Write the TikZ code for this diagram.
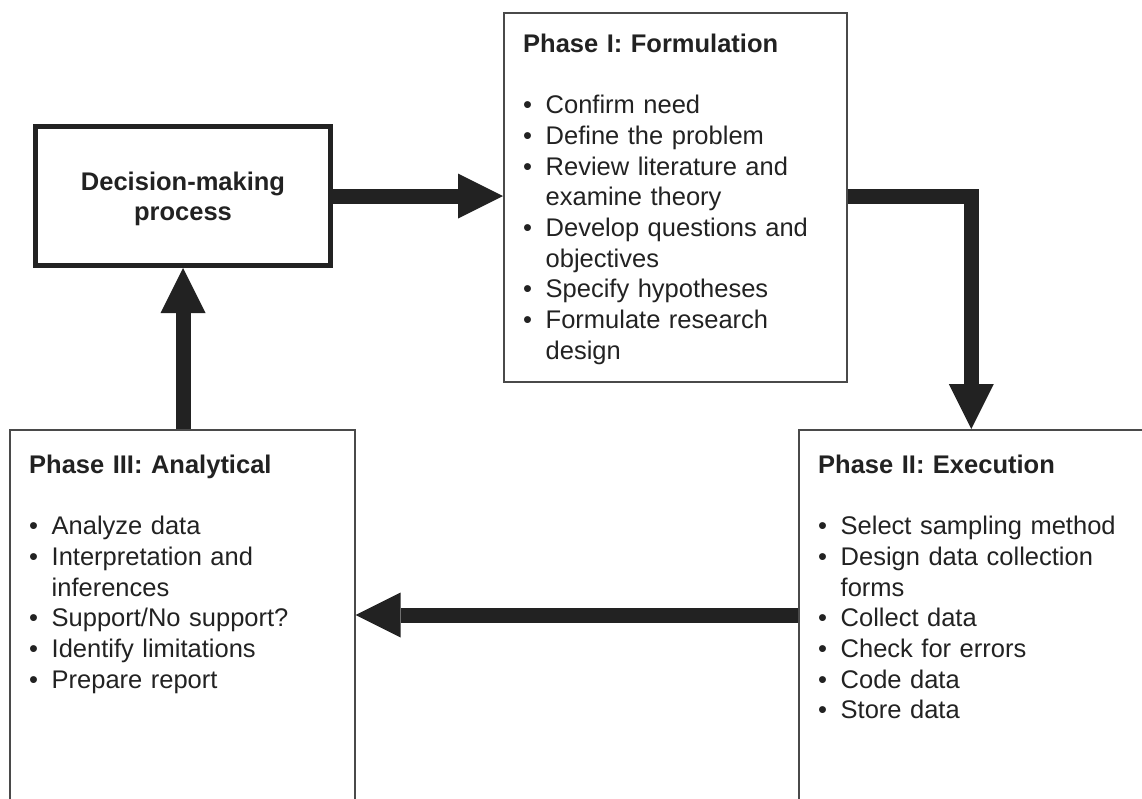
\documentclass[tikz,border=0pt]{standalone}
\usepackage{fontspec}
\setmainfont{Liberation Sans}
\usetikzlibrary{arrows.meta}
\definecolor{ink}{HTML}{222222}
\definecolor{boxline}{HTML}{4A4A4A}
\newcommand{\bitem}[1]{\par\noindent\hangindent=22.5pt\hangafter=1\makebox[22.5pt][l]{\textbullet}#1}
\newcommand{\phasetitle}[1]{\noindent\rule{0pt}{20pt}{\bfseries #1}\par\vspace{30.7pt}}
\tikzset{
  phasebox/.style={draw=boxline, line width=1.6pt, fill=white, inner sep=0pt, anchor=north west},
  dmbox/.style={draw=ink, line width=5pt, fill=white, inner sep=0pt, align=center,
    font=\bfseries\fontsize{25.5pt}{30.7pt}\selectfont, text=ink},
  content/.style={inner sep=0pt, anchor=north west, text width=318pt, align=left,
    font=\fontsize{25.5pt}{30.7pt}\selectfont, text=ink},
  bigarrow/.style={draw=ink, line width=15pt,
    -{Triangle[length=45pt,width=45pt,line width=0pt]}}
}
\begin{document}
\begin{tikzpicture}[x=1pt,y=-1pt]
\useasboundingbox (0,0) rectangle (1142,798);
\fill[white] (0,0) rectangle (1142,798);
\clip (0,0) rectangle (1142,798);

% boxes
\node[dmbox, minimum width=295pt, minimum height=139pt] (dm) at (183,196)
  {\rule{0pt}{24.7pt}Decision-making\\process\rule[-6pt]{0pt}{6pt}};
\node[phasebox, minimum width=343pt, minimum height=369pt] (p1) at (503,12) {};
\node[phasebox, minimum width=345pt, minimum height=400pt] (p2) at (798,429) {};
\node[phasebox, minimum width=345pt, minimum height=400pt] (p3) at (9,429) {};

% box contents
\node[content] (t1) at (523,32) {%
  \phasetitle{Phase I: Formulation}%
  \bitem{Confirm need}%
  \bitem{Define the problem}%
  \bitem{Review literature and\newline examine theory}%
  \bitem{Develop questions and\newline objectives}%
  \bitem{Specify hypotheses}%
  \bitem{Formulate research\newline design}\par};
\node[content] (t2) at (818,453) {%
  \phasetitle{Phase II: Execution}%
  \bitem{Select sampling method}%
  \bitem{Design data collection\newline forms}%
  \bitem{Collect data}%
  \bitem{Check for errors}%
  \bitem{Code data}%
  \bitem{Store data}\par};
\node[content] (t3) at (29,453) {%
  \phasetitle{Phase III: Analytical}%
  \bitem{Analyze data}%
  \bitem{Interpretation and\newline inferences}%
  \bitem{Support/No support?}%
  \bitem{Identify limitations}%
  \bitem{Prepare report}\par};

% connectors
\coordinate (lowy) at (0,615);
\draw[bigarrow] (dm.east) -- (dm.east -| p1.west);
\draw[bigarrow] (dm.east -| p1.east) -| (p2.north);
\draw[bigarrow] (p2.west |- lowy) -- (p3.east |- lowy);
\draw[bigarrow] (p3.north -| dm.south) -- (dm.south);
\end{tikzpicture}
\end{document}
